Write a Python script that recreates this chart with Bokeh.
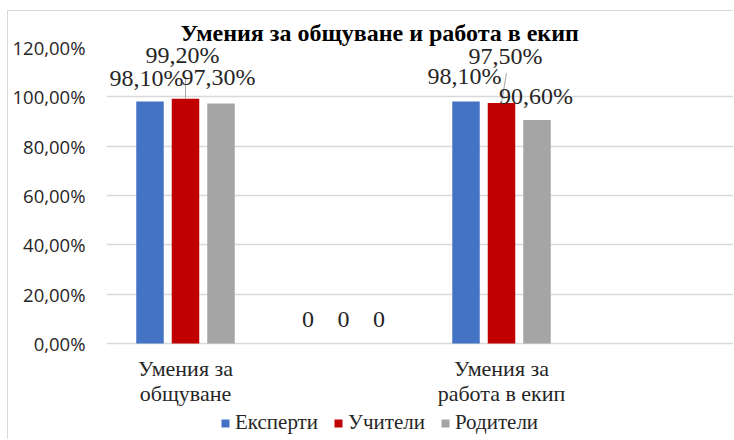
from bokeh.plotting import figure
from bokeh.models import (Range1d, FixedTicker, LabelSet, ColumnDataSource, Title,
                          Legend, LegendItem, CustomJSTickFormatter)
from bokeh.core.properties import value
from bokeh.embed import file_html
from bokeh.resources import INLINE

# ---- data ----
title = "Умения за общуване и работа в екип"
categories = ["Умения за\nобщуване", "", "Умения за\nработа в екип"]
series = ["Експерти", "Учители", "Родители"]
experts = [0.981, 0.0, 0.981]
teachers = [0.992, 0.0, 0.975]
parents = [0.973, 0.0, 0.906]
y_ticks = [0.0, 0.2, 0.4, 0.6, 0.8, 1.0, 1.2]

# ---- styles ----
colors = ["#4472C4", "#C00000", "#A5A5A5"]
serif = "Liberation Serif"
sans = "Open Sans"
CAT_PX = 158.0
FIG_W, FIG_H = 726, 429
MB_L, MB_T = 98, 36
GRID_PX = 296            # pixel height of 0..120 %
FRAME_W = FIG_W - MB_L
FRAME_H = FIG_H - MB_T
PX_PER_UNIT = GRID_PX / 1.2
y_min = -(FRAME_H - GRID_PX) / PX_PER_UNIT
bar_w = 27.5 / CAT_PX
bar_step = 35.5 / CAT_PX
n_slots = FRAME_W / CAT_PX

# label pixel offsets per series per category
label_dx = [[-3.5, 0, -1.5], [-3, 0, 4], [-2.5, 0, -1]]
label_dy = [[16, 17, 18], [36, 17, 39.5], [18, 17, 16.5]]
# leader lines (series index, category index, dx px, dy px)
leaders = [(1, 0, 0, 22), (1, 2, 5, 30)]
cat_line_dy = [-32, -57]

p = figure(width=FIG_W, height=FIG_H, output_backend="svg", toolbar_location=None,
           x_range=Range1d(0, n_slots), y_range=Range1d(y_min, 1.2),
           min_border_left=MB_L, min_border_right=0, min_border_top=MB_T,
           min_border_bottom=0)
p.outline_line_color = None
p.background_fill_color = "white"
p.border_fill_color = "white"
p.styles = {"margin-left": "7px", "margin-top": "10px",
            "border-left": "1px solid #D9D9D9", "border-top": "1px solid #D9D9D9"}

centers = [i + 0.5 for i in range(len(categories))]
values = [experts, teachers, parents]

renderers = []
for s, (vals, col) in enumerate(zip(values, colors)):
    xs = [c + (s - 1) * bar_step for c in centers]
    src = ColumnDataSource(dict(x=xs, top=vals))
    r = p.vbar(x="x", top="top", width=bar_w, source=src, fill_color=col,
               line_color=None)
    renderers.append(r)
    texts = [("0" if v == 0 else f"{v*100:.2f}%".replace(".", ",")) for v in vals]
    lsrc = ColumnDataSource(dict(x=xs, y=vals, text=texts,
                                 dx=label_dx[s], dy=label_dy[s]))
    p.add_layout(LabelSet(x="x", y="y", text="text", x_offset="dx", y_offset="dy",
                          source=lsrc, text_font=value(serif),
                          text_font_size="24px", text_color="#262626",
                          text_align="center", text_baseline="alphabetic"))

# leader lines
lx0, ly0, lx1, ly1 = [], [], [], []
for s, c, dx, dy in leaders:
    x = centers[c] + (s - 1) * bar_step
    v = values[s][c]
    lx0.append(x); ly0.append(v)
    lx1.append(x + dx / CAT_PX); ly1.append(v + dy / PX_PER_UNIT)
p.segment(x0=lx0, y0=ly0, x1=lx1, y1=ly1, line_color="#A6A6A6", line_width=1)

# category labels along the zero line (each line centred on its own)
for li, dy in enumerate(cat_line_dy):
    line_texts = [(c.split("\n") + ["", ""])[li] for c in categories]
    csrc = ColumnDataSource(dict(x=centers, y=[0.0] * len(centers), text=line_texts))
    p.add_layout(LabelSet(x="x", y="y", text="text", source=csrc, y_offset=dy,
                          text_font=value(serif), text_font_size="22px",
                          text_color="#262626", text_align="center",
                          text_baseline="alphabetic"))

# axes
p.yaxis.ticker = FixedTicker(ticks=y_ticks)
p.yaxis.formatter = CustomJSTickFormatter(
    code="return (tick*100).toFixed(2).replace('.', ',') + '%';")
p.yaxis.axis_line_color = None
p.yaxis.major_tick_line_color = None
p.yaxis.minor_tick_line_color = None
p.yaxis.major_label_text_font = sans
p.yaxis.major_label_text_font_size = "18.5px"
p.yaxis.major_label_text_color = "#262626"
p.yaxis.major_label_standoff = 15
p.xaxis.visible = False

p.xgrid.grid_line_color = None
p.ygrid.ticker = FixedTicker(ticks=y_ticks)
p.ygrid.grid_line_color = "#D9D9D9"
p.ygrid.grid_line_width = 1.5

# title
p.add_layout(Title(text=title, text_font=serif, text_font_style="bold",
                   text_font_size="24px", text_color="black", align="left",
                   vertical_align="top", offset=74, standoff=0), "above")

legend = Legend(items=[LegendItem(label=n, renderers=[r]) for n, r in zip(series, renderers)],
                location=(114, 5), orientation="horizontal",
                border_line_color=None, background_fill_alpha=0,
                label_text_font=serif, label_text_font_size="21px",
                label_text_color="#262626",
                glyph_width=10, glyph_height=10, label_standoff=5, spacing=15,
                padding=0, margin=0, label_height=20)
p.add_layout(legend, "center")

open("out.html", "w").write(file_html(p, INLINE))
